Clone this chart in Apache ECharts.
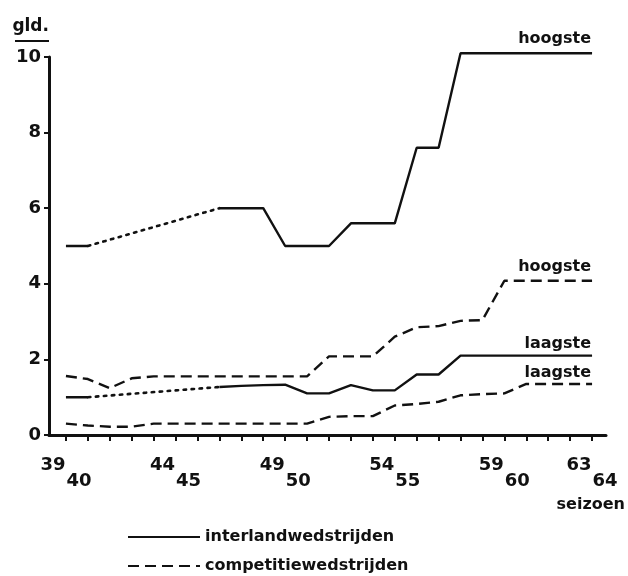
<!DOCTYPE html>
<html>
<head>
<meta charset="utf-8">
<script src="https://cdn.jsdelivr.net/npm/echarts@6/dist/echarts.min.js"></script>
<style>
html,body{margin:0;padding:0;background:#fff;}
#chart{width:628px;height:576px;}
</style>
</head>
<body>
<div id="chart"></div>
<script>
// ---- data ----
const seasons = ['39/40','40/41','41/42','42/43','43/44','44/45','45/46','46/47','47/48','48/49','49/50','50/51','51/52','52/53','53/54','54/55','55/56','56/57','57/58','58/59','59/60','60/61','61/62','62/63','63/64'];
const labelSeasonIdx = [0, 5, 10, 15, 20, 24];
const yTicks = [0, 2, 4, 6, 8, 10];

// interlandwedstrijden (solid) — gaps are bridged by the dotted series
const interHigh = [5, 5, null, null, null, null, null, 6, 6, 6, 5, 5, 5, 5.6, 5.6, 5.6, 7.6, 7.6, 10.1, 10.1, 10.1, 10.1, 10.1, 10.1, 10.1];
const interHighDotted = [null, 5, null, null, null, null, null, 6, null, null, null, null, null, null, null, null, null, null, null, null, null, null, null, null, null];
const interLow = [1.0, 1.0, null, null, null, null, null, 1.27, 1.3, 1.32, 1.33, 1.1, 1.1, 1.32, 1.18, 1.18, 1.6, 1.6, 2.1, 2.1, 2.1, 2.1, 2.1, 2.1, 2.1];
const interLowDotted = [null, 1.0, null, null, null, null, null, 1.27, null, null, null, null, null, null, null, null, null, null, null, null, null, null, null, null, null];

// competitiewedstrijden (dashed)
const compHigh = [1.56, 1.48, 1.24, 1.5, 1.55, 1.55, 1.55, 1.55, 1.55, 1.55, 1.55, 1.55, 2.08, 2.08, 2.08, 2.6, 2.85, 2.88, 3.02, 3.04, 4.08, 4.08, 4.08, 4.08, 4.08];
const compLow = [0.3, 0.25, 0.22, 0.22, 0.3, 0.3, 0.3, 0.3, 0.3, 0.3, 0.3, 0.3, 0.48, 0.5, 0.5, 0.78, 0.82, 0.88, 1.05, 1.08, 1.1, 1.35, 1.35, 1.35, 1.35];

const legendNames = ['interlandwedstrijden', 'competitiewedstrijden'];
const endLabels = ['hoogste', 'laagste'];

// ---- chart ----
const INK = '#111';
const FONT = 'DejaVu Sans';
const toPts = arr => arr.map((v, i) => [i, v]);

const solid = {color: INK, width: 2.4, type: 'solid'};
const dashed = {color: INK, width: 2.4, type: [11, 6]};
const dotted = {color: INK, width: 2.6, type: [2.5, 5.5], cap: 'round'};

function endLabel(text, dy) {
  return {
    show: true, formatter: text, align: 'right', verticalAlign: 'middle',
    offset: [-9, dy], color: INK, fontFamily: FONT, fontWeight: 'bold', fontSize: 16
  };
}

const chart = echarts.init(document.getElementById('chart'), null, {renderer: 'canvas'});
chart.setOption({
  animation: false,
  backgroundColor: '#fff',
  grid: {left: 49, right: 20, top: 57, bottom: 141},
  xAxis: {
    type: 'value',
    min: -0.773, max: 24.636,
    name: 'seizoen', nameLocation: 'end', nameGap: 19,
    nameTextStyle: {color: INK, fontFamily: FONT, fontWeight: 'bold', fontSize: 16, align: 'right', verticalAlign: 'top', padding: [62, 0, 0, 0]},
    axisLine: {show: true, onZero: false, lineStyle: {color: INK, width: 3}},
    axisTick: {show: true, customValues: seasons.map((s, i) => i), length: 6, lineStyle: {color: INK, width: 2}},
    splitLine: {show: false},
    axisLabel: {
      customValues: labelSeasonIdx,
      margin: 22,
      formatter: v => { const p = seasons[Math.round(v)].split('/'); return '{a|' + p[0] + '}\n{b|' + p[1] + '}'; },
      rich: {
        a: {fontFamily: FONT, fontWeight: 'bold', fontSize: 18, color: INK, lineHeight: 16, padding: [0, 26, 0, 0]},
        b: {fontFamily: FONT, fontWeight: 'bold', fontSize: 18, color: INK, lineHeight: 16, padding: [0, 0, 0, 26]}
      }
    }
  },
  yAxis: {
    type: 'value', min: 0, max: 10, interval: 2,
    name: 'gld.', nameLocation: 'end', nameGap: 22,
    nameTextStyle: {color: INK, fontFamily: FONT, fontWeight: 'bold', fontSize: 17, align: 'right', padding: [0, 0, 0, 0]},
    axisLine: {show: true, onZero: false, lineStyle: {color: INK, width: 3}},
    axisTick: {show: true, length: 5, lineStyle: {color: INK, width: 2}},
    splitLine: {show: false},
    axisLabel: {color: INK, fontFamily: FONT, fontWeight: 'bold', fontSize: 18, margin: 8,
      customValues: yTicks}
  },
  legend: {
    orient: 'vertical', left: 127, top: 529, padding: 0,
    itemWidth: 72, itemHeight: 14, itemGap: 13,
    textStyle: {color: INK, fontFamily: FONT, fontWeight: 'bold', fontSize: 16},
    data: [
      {name: legendNames[0], itemStyle: {color: 'rgba(0,0,0,0)', borderWidth: 0}},
      {name: legendNames[1], itemStyle: {color: 'rgba(0,0,0,0)', borderWidth: 0}}
    ],
    selectedMode: false
  },
  graphic: [
    {type: 'line', shape: {x1: 15, y1: 41, x2: 49, y2: 41}, style: {stroke: INK, lineWidth: 2}}
  ],
  series: [
    {name: legendNames[0], type: 'line', symbol: 'none', clip: false, data: toPts(interHigh), lineStyle: solid, itemStyle: {color: INK}, endLabel: endLabel(endLabels[0], -14)},
    {name: 'interHighDotted', type: 'line', symbol: 'none', clip: false, connectNulls: true, data: toPts(interHighDotted), lineStyle: dotted, itemStyle: {color: INK}},
    {name: legendNames[0], type: 'line', symbol: 'none', clip: false, data: toPts(interLow), lineStyle: solid, itemStyle: {color: INK}, endLabel: endLabel(endLabels[1], -12)},
    {name: 'interLowDotted', type: 'line', symbol: 'none', clip: false, connectNulls: true, data: toPts(interLowDotted), lineStyle: dotted, itemStyle: {color: INK}},
    {name: legendNames[1], type: 'line', symbol: 'none', clip: false, data: toPts(compHigh), lineStyle: dashed, itemStyle: {color: INK}, endLabel: endLabel(endLabels[0], -14)},
    {name: legendNames[1], type: 'line', symbol: 'none', clip: false, data: toPts(compLow), lineStyle: dashed, itemStyle: {color: INK}, endLabel: endLabel(endLabels[1], -11)}
  ]
});
</script>
</body>
</html>
